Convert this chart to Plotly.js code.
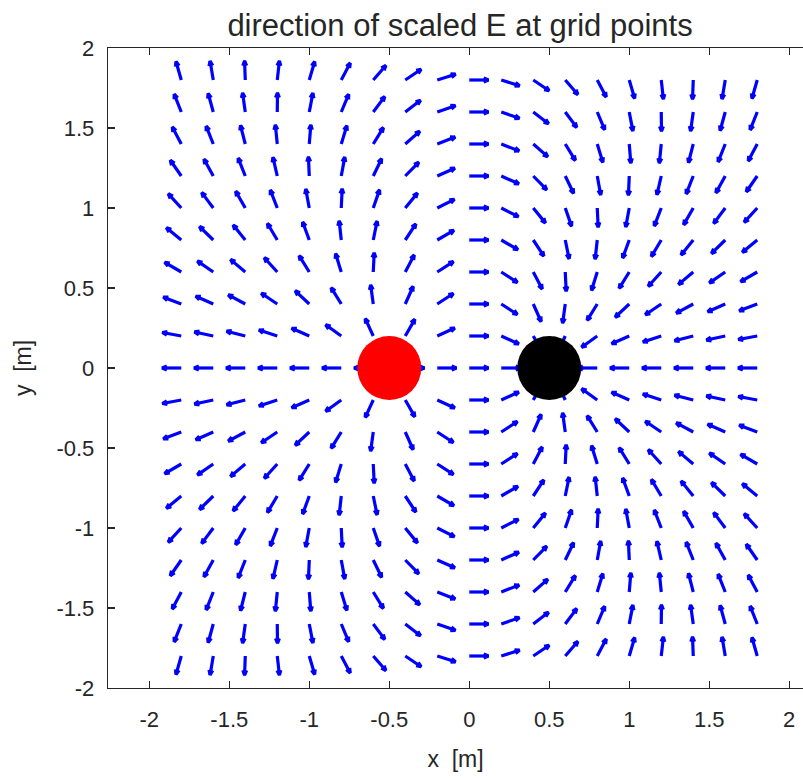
<!DOCTYPE html>
<html>
<head>
<meta charset="utf-8">
<script src="https://cdn.plot.ly/plotly-3.0.1.min.js"></script>
<style>html,body{margin:0;padding:0;background:#fff;}#plot{width:803px;height:779px;}</style>
</head>
<body>
<div id="plot"></div>
<script>
// Grid points where the field direction is shown
const gridX = [-1.8,-1.6,-1.4,-1.2,-1.0,-0.8,-0.6,-0.4,-0.2,0,0.2,0.4,0.6,0.8,1.0,1.2,1.4,1.6,1.8];
const gridY = [-1.8,-1.6,-1.4,-1.2,-1.0,-0.8,-0.6,-0.4,-0.2,0,0.2,0.4,0.6,0.8,1.0,1.2,1.4,1.6,1.8];
// Point charges (positive red, negative black)
const chargeX = [-0.5, 0.5];
const chargeY = [0, 0];
const chargeQ = [1, -1];
const chargeColor = ['rgb(255,0,0)', 'rgb(0,0,0)'];
// Tick values / labels
const xTickVals = [-2,-1.5,-1,-0.5,0,0.5,1,1.5,2];
const xTickText = ['-2','-1.5','-1','-0.5','0','0.5','1','1.5','2'];
const yTickVals = [-2,-1.5,-1,-0.5,0,0.5,1,1.5,2];
const yTickText = ['-2','-1.5','-1','-0.5','0','0.5','1','1.5','2'];

const arrowLen = 0.12;
const headBack = 0.25, headSide = 0.1;

const ax = [], ay = [];
for (const y of gridY) {
  for (const x of gridX) {
    let ex = 0, ey = 0;
    for (let k = 0; k < chargeQ.length; k++) {
      const dx = x - chargeX[k], dy = y - chargeY[k];
      const r3 = Math.pow(dx*dx + dy*dy, 1.5);
      ex += chargeQ[k] * dx / r3;
      ey += chargeQ[k] * dy / r3;
    }
    const m = Math.hypot(ex, ey);
    const ux = ex / m, uy = ey / m;
    const tx = x + arrowLen * ux, ty = y + arrowLen * uy;
    const bx = tx - headBack * arrowLen * ux, by = ty - headBack * arrowLen * uy;
    const px = -uy * headSide * arrowLen, py = ux * headSide * arrowLen;
    ax.push(x, tx, null, bx + px, tx, bx - px, null);
    ay.push(y, ty, null, by + py, ty, by - py, null);
  }
}

const font = 'Liberation Sans, Arial, Helvetica, sans-serif';
const txtColor = '#262626';

const traces = [
  {
    type: 'scatter', mode: 'lines', x: ax, y: ay,
    line: {color: 'rgb(0,0,255)', width: 3.2},
    hoverinfo: 'skip', showlegend: false
  },
  {
    type: 'scatter', mode: 'markers', x: chargeX, y: chargeY,
    marker: {size: 64, color: chargeColor, line: {width: 0}},
    hoverinfo: 'skip', showlegend: false
  }
];

const layout = {
  width: 803, height: 779,
  margin: {l: 108, r: 0, t: 48, b: 91},
  paper_bgcolor: '#fff', plot_bgcolor: '#fff',
  font: {family: font, color: txtColor, size: 22},
  title: {
    text: 'direction of scaled E at grid points',
    font: {family: font, size: 31, color: txtColor},
    xref: 'paper', x: 0.5065, xanchor: 'center',
    yref: 'container', y: 0.968, yanchor: 'middle'
  },
  xaxis: {
    range: [-2.258, 2.086], autorange: false,
    tickvals: xTickVals, ticktext: xTickText,
    ticks: 'inside', ticklen: 7, tickwidth: 1.2, tickcolor: txtColor,
    showline: true, linecolor: txtColor, linewidth: 1.3, mirror: 'ticks',
    showgrid: false, zeroline: false,
    tickfont: {family: font, size: 22, color: txtColor},
    ticklabelstandoff: 11,
    title: {text: 'x  [m]', font: {family: font, size: 23, color: txtColor}, standoff: 20}
  },
  yaxis: {
    range: [-2, 2], autorange: false,
    tickvals: yTickVals, ticktext: yTickText,
    ticks: 'inside', ticklen: 7, tickwidth: 1.2, tickcolor: txtColor,
    showline: true, linecolor: txtColor, linewidth: 1.3, mirror: false,
    showgrid: false, zeroline: false,
    tickfont: {family: font, size: 22, color: txtColor},
    ticklabelstandoff: 8,
    title: {text: 'y  [m]', font: {family: font, size: 23, color: txtColor}, standoff: 18}
  }
};

Plotly.newPlot('plot', traces, layout, {displayModeBar: false, staticPlot: true});
</script>
</body>
</html>
